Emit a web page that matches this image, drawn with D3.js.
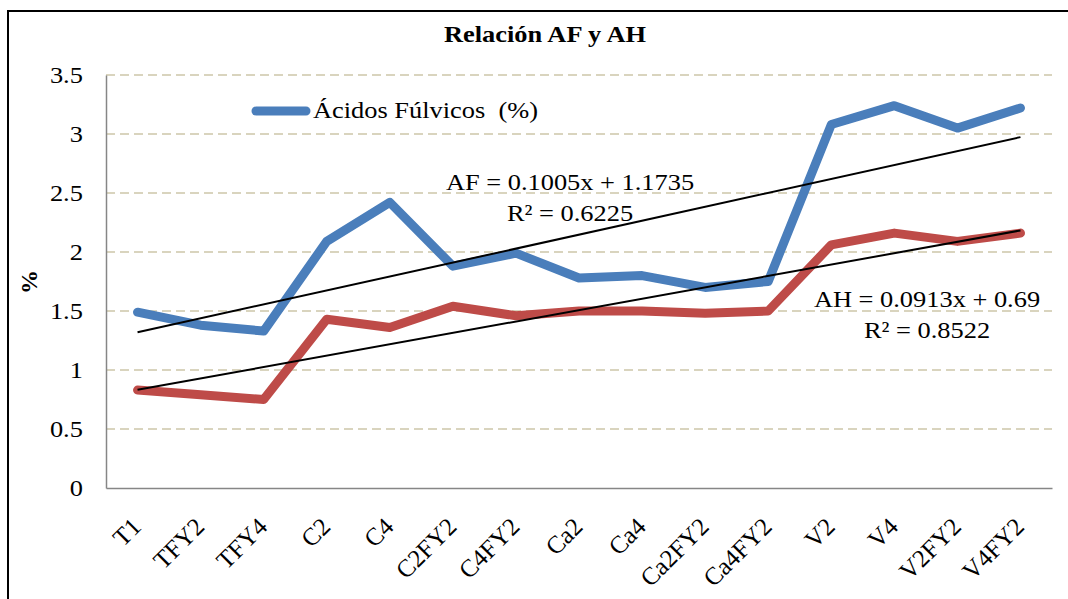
<!DOCTYPE html>
<html>
<head>
<meta charset="utf-8">
<script src="https://cdn.jsdelivr.net/npm/d3@7"></script>
<style>
	body { margin: 0; background: #fff; }
	svg text { font-family: "Liberation Serif", "Times New Roman", serif !important; fill: #000; white-space: pre; }
</style>
</head>
<body>
<div id="main-view"></div>
<script>
var categories = ["T1", "TFY2", "TFY4", "C2", "C4", "C2FY2", "C4FY2", "Ca2", "Ca4", "Ca2FY2", "Ca4FY2", "V2", "V4", "V2FY2", "V4FY2"];
var fulvicos = [1.49, 1.38, 1.33, 2.09, 2.42, 1.88, 1.99, 1.78, 1.80, 1.70, 1.75, 3.08, 3.24, 3.05, 3.22];
var humicos = [0.83, 0.79, 0.75, 1.43, 1.36, 1.54, 1.46, 1.50, 1.50, 1.48, 1.50, 2.06, 2.16, 2.09, 2.16];
var yTicks = [0, 0.5, 1, 1.5, 2, 2.5, 3, 3.5];
var legendLabel = "Ácidos Fúlvicos  (%)";
var eqAF = ["AF = 0.1005x + 1.1735", "R² = 0.6225"];
var eqAH = ["AH = 0.0913x + 0.69", "R² = 0.8522"];

var width = 1068, height = 599;
var margin = { left: 106, right: 16, top: 75, bottom: 111 };
var sx = 1.1; // text in the source looks a bit wide

var svg = d3.select("#main-view").append("svg")
	.attr("width", width)
	.attr("height", height);

// chart border (runs off the page on right and bottom)
svg.append("rect")
	.attr("x", 8).attr("y", 11)
	.attr("width", 1100).attr("height", 700)
	.attr("fill", "none")
	.attr("stroke", "#000")
	.attr("stroke-width", 2);

var x = d3.scaleBand()
	.domain(categories)
	.range([margin.left, width - margin.right]);

var y = d3.scaleLinear()
	.domain([0, 3.5])
	.range([height - margin.bottom, margin.top]);

function cx(d) { return x(d) + x.bandwidth() / 2; }

function wideText(parent, px, py) {
	return parent.append("text")
		.attr("transform", "translate(" + px + "," + py + ") scale(" + sx + ",1)");
}

// gridlines
svg.append("g")
	.selectAll("line")
	.data(yTicks.slice(1))
	.enter()
	.append("line")
	.attr("x1", margin.left).attr("x2", width - margin.right)
	.attr("y1", function(d) { return y(d); })
	.attr("y2", function(d) { return y(d); })
	.attr("stroke", "#d9d4be")
	.attr("stroke-width", 2)
	.attr("stroke-dasharray", "9,5");

// axes
var yAxis = svg.append("g")
	.attr("transform", "translate(" + margin.left + ",0)")
	.call(d3.axisLeft(y).tickValues(yTicks).tickSize(0).tickPadding(21).tickFormat(d3.format("")));
var xAxis = svg.append("g")
	.attr("transform", "translate(0," + y(0) + ")")
	.call(d3.axisBottom(x).tickSize(0).tickFormat(""));

svg.selectAll(".domain").attr("stroke", "#868686").attr("stroke-width", 1.5);
yAxis.selectAll("text")
	.attr("font-size", 24)
	.attr("dy", "0.32em")
	.attr("transform", "scale(" + sx + ",1)");

svg.append("g")
	.selectAll("text")
	.data(categories)
	.enter()
	.append("text")
	.attr("transform", function(d) {
		return "translate(" + (cx(d) - 1) + "," + (y(0) + 34) + ") rotate(-45)";
	})
	.attr("text-anchor", "end")
	.attr("dy", "0.35em")
	.attr("font-size", 25)
	.text(function(d) { return d; });

// series
var line = d3.line()
	.x(function(d, i) { return cx(categories[i]); })
	.y(function(d) { return y(d); });

[[fulvicos, "#4a7ebb"], [humicos, "#be4b48"]].forEach(function(s) {
	svg.append("path")
		.datum(s[0])
		.attr("d", line)
		.attr("fill", "none")
		.attr("stroke", s[1])
		.attr("stroke-width", 9)
		.attr("stroke-linejoin", "round")
		.attr("stroke-linecap", "round");
});

// linear trend lines (least squares on x = 1..n)
function trend(values) {
	var n = values.length;
	var xs = d3.range(1, n + 1);
	var mx = d3.mean(xs), my = d3.mean(values);
	var sxy = d3.sum(xs, function(v, i) { return (v - mx) * (values[i] - my); });
	var sxx = d3.sum(xs, function(v) { return (v - mx) * (v - mx); });
	var b = sxy / sxx, a = my - b * mx;
	return [[1, a + b], [n, a + b * n]];
}

[fulvicos, humicos].forEach(function(vals) {
	var t = trend(vals);
	svg.append("line")
		.attr("x1", cx(categories[t[0][0] - 1]))
		.attr("y1", y(t[0][1]))
		.attr("x2", cx(categories[t[1][0] - 1]))
		.attr("y2", y(t[1][1]))
		.attr("stroke", "#000")
		.attr("stroke-width", 2);
});

// equation labels
function drawEquation(lines, xc, yb) {
	lines.forEach(function(d, i) {
		wideText(svg, xc, yb + i * 31)
			.attr("text-anchor", "middle")
			.attr("font-size", 24)
			.text(d);
	});
}
drawEquation(eqAF, 570, 190);
drawEquation(eqAH, 927, 307);

// title
wideText(svg, 545, 42)
	.attr("text-anchor", "middle")
	.attr("font-size", 24)
	.attr("font-weight", "bold")
	.text("Relación AF y AH");

// y-axis label
svg.append("text")
	.attr("transform", "translate(37,282) rotate(-90)")
	.attr("text-anchor", "middle")
	.attr("font-size", 24)
	.attr("font-weight", "bold")
	.text("%");

// legend
var legend = svg.append("g");
legend.append("line")
	.attr("x1", 256).attr("x2", 306)
	.attr("y1", 111).attr("y2", 111)
	.attr("stroke", "#4a7ebb")
	.attr("stroke-width", 9)
	.attr("stroke-linecap", "round");
wideText(legend, 313, 118)
	.attr("font-size", 24)
	.text(legendLabel);
</script>
</body>
</html>
